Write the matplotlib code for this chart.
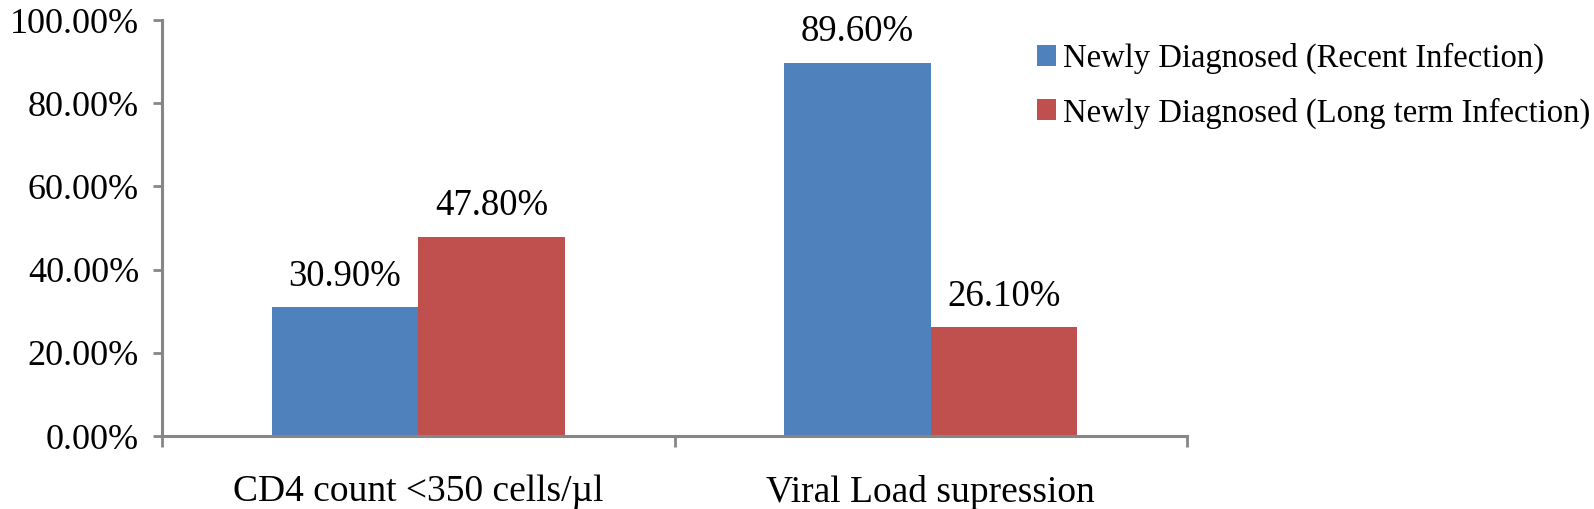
import numpy as np
import matplotlib
matplotlib.use("Agg")
import matplotlib.pyplot as plt
from matplotlib.ticker import FuncFormatter

# donnees
categories = ["CD4 count <350 cells/\u00b5l", "Viral Load supression"]
recent = [30.9, 89.6]
long_term = [47.8, 26.1]
series_names = ["Newly Diagnosed (Recent Infection)",
                "Newly Diagnosed (Long term Infection)"]

plt.rcParams["font.family"] = ["Liberation Serif", "DejaVu Serif"]
axis_col = "#868686"

fig = plt.figure(figsize=(15.94, 5.09), dpi=100)
ax = fig.add_axes([0.1016, 0.1434, 0.6431, 0.8173])

x = np.arange(len(categories))
w = 0.286
b1 = ax.bar(x - w / 2, recent, w, color="#4F81BD", label=series_names[0])
b2 = ax.bar(x + w / 2, long_term, w, color="#C0504D", label=series_names[1])

for bars, vals in ((b1, recent), (b2, long_term)):
    for r, v in zip(bars, vals):
        ax.annotate(f"{v:.2f}%", (r.get_x() + r.get_width() / 2, v),
                    xytext=(0, 10), textcoords="offset points",
                    ha="center", va="bottom", fontsize=26.5)

ax.set_xlim(-0.5, 1.5)
ax.set_ylim(0, 100)
ax.set_yticks(np.arange(0, 101, 20))
ax.yaxis.set_major_formatter(FuncFormatter(lambda v, p: f"{v:.2f}%"))

# ticks de categorie aux bords, labels au centre
ax.set_xticks([-0.5, 0.5, 1.5])
ax.set_xticklabels([])
ax.set_xticks(x, minor=True)
ax.set_xticklabels(categories, minor=True)
ax.tick_params(axis="x", which="minor", length=0, pad=28, labelsize=27)
ax.tick_params(axis="x", which="major", length=8, width=2, color=axis_col)
ax.tick_params(axis="y", length=6.5, width=2, color=axis_col, pad=10,
               labelsize=26)

for s in ("top", "right"):
    ax.spines[s].set_visible(False)
for s in ("left", "bottom"):
    ax.spines[s].set_color(axis_col)
    ax.spines[s].set_linewidth(2.2)

fig.legend(handles=[b1, b2], loc="upper left", bbox_to_anchor=(0.632, 0.973),
           frameon=False, fontsize=23.5, handlelength=0.6, handleheight=0.6,
           handletextpad=0.2, labelspacing=0.7)

fig.savefig("out.png", dpi=100)
